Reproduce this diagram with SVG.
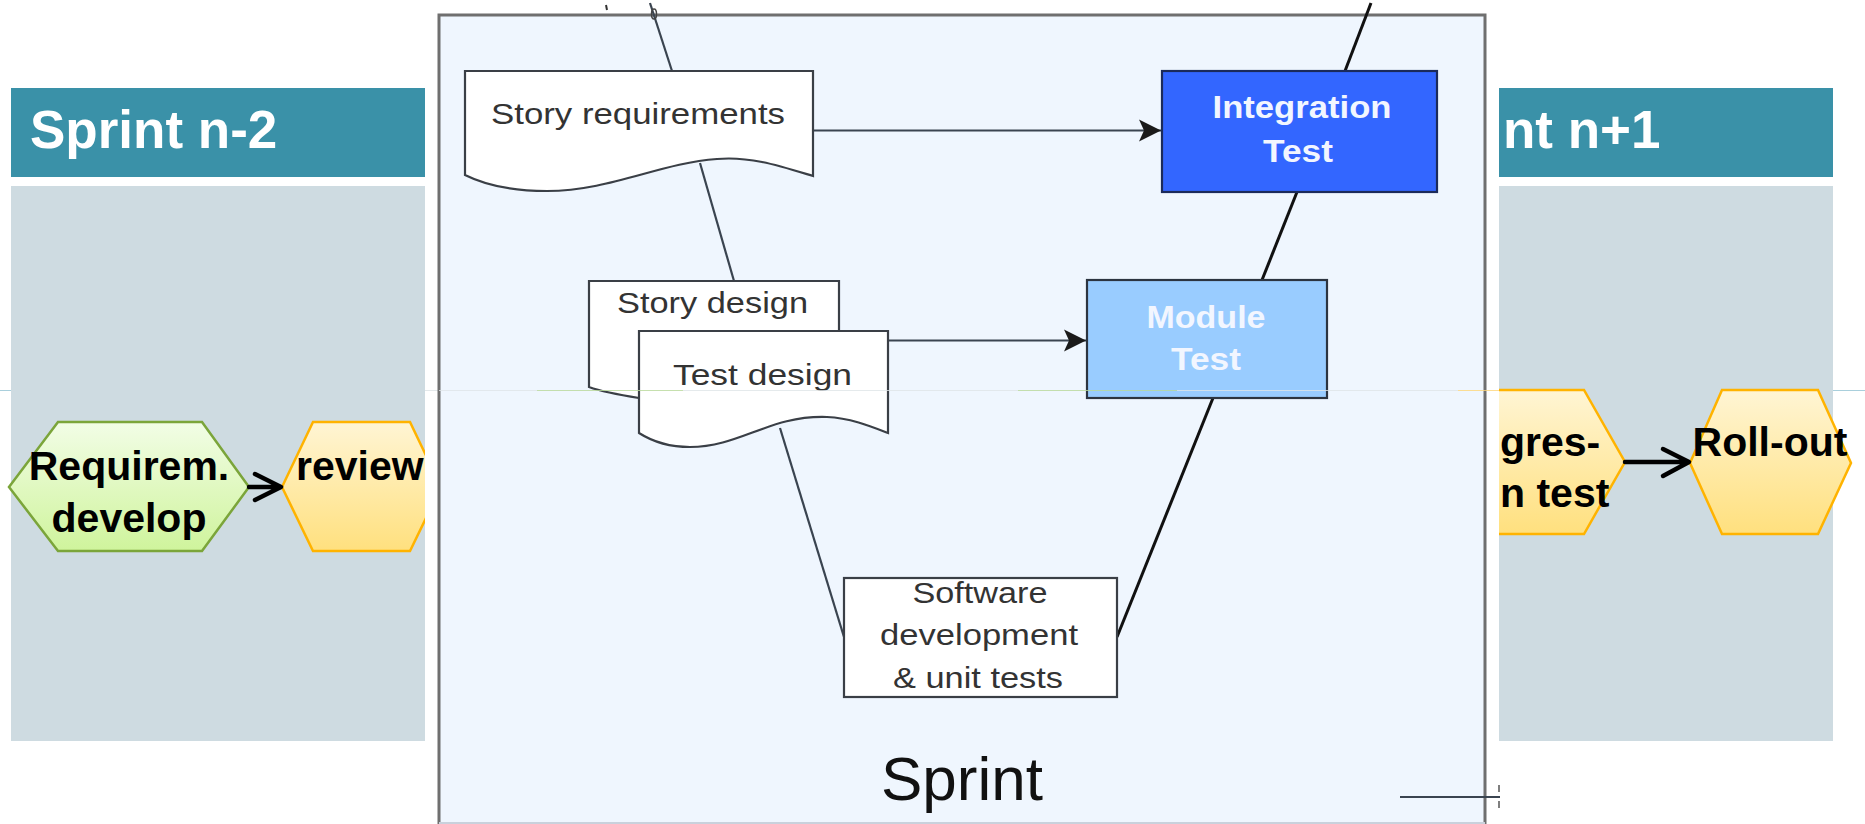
<svg xmlns="http://www.w3.org/2000/svg" width="1865" height="824" viewBox="0 0 1865 824">
  <defs>
    <linearGradient id="gGreen" x1="0" y1="0" x2="0" y2="1">
      <stop offset="0" stop-color="#f2fde6"/>
      <stop offset="1" stop-color="#cff49c"/>
    </linearGradient>
    <linearGradient id="gYellow" x1="0" y1="0" x2="0" y2="1">
      <stop offset="0" stop-color="#fff5d4"/>
      <stop offset="1" stop-color="#ffe07e"/>
    </linearGradient>
    <clipPath id="clipLeft">
      <rect x="0" y="0" width="425" height="824"/>
    </clipPath>
    <clipPath id="clipRight">
      <rect x="1499" y="0" width="366" height="824"/>
    </clipPath>
    <marker id="arrowFill" viewBox="0 0 24 24" markerWidth="24" markerHeight="24" refX="22" refY="12" orient="auto" markerUnits="userSpaceOnUse">
      <path d="M0,1 L22,12 L0,23 L5,12 Z" fill="#1a1a1a"/>
    </marker>
    <style>
      .hdr { fill: #3a91a8; }
      .panel { fill: #cedbe1; }
      .hdrText { font-family: "Liberation Sans", Arial, sans-serif; font-weight: bold; font-size: 53px; fill: #ffffff; }
      .hexText { font-family: "Liberation Sans", Arial, sans-serif; font-weight: bold; font-size: 41px; fill: #000000; }
      .hexGreen { fill: url(#gGreen); stroke: #7ba53a; stroke-width: 2.5; }
      .hexYellow { fill: url(#gYellow); stroke: #ffb300; stroke-width: 2.5; }
      .flow { fill: none; stroke: #000000; stroke-width: 4.5; stroke-linecap: round; stroke-linejoin: round; }
      .doc { fill: #ffffff; stroke: #3a3f46; stroke-width: 2.2; }
      .docText { font-family: "Liberation Sans", Arial, sans-serif; font-size: 30px; fill: #333333; }
      .testText { font-family: "Liberation Sans", Arial, sans-serif; font-weight: bold; font-size: 31px; fill: #f2f6ff; text-anchor: middle; }
      .link { fill: none; stroke: #3a4450; stroke-width: 2.2; }
      .linkDark { fill: none; stroke: #111111; stroke-width: 3; }
    </style>
  </defs>

  <rect width="1865" height="824" fill="#ffffff"/>

  <!-- left sprint column -->
  <g id="sprint-n-2">
    <rect class="hdr" x="11" y="88" width="414" height="89"/>
    <text class="hdrText" x="30" y="148">Sprint n-2</text>
    <rect class="panel" x="11" y="186" width="414" height="555"/>
  </g>
  <g clip-path="url(#clipLeft)">
    <g id="req-develop">
      <polygon class="hexGreen" points="9,487 58,422 202,422 249,487 202,551 58,551"/>
      <text class="hexText" x="129" y="480" text-anchor="middle">Requirem.</text>
      <text class="hexText" x="129" y="532" text-anchor="middle">develop</text>
    </g>
    <g id="review">
      <polygon class="hexYellow" points="282,487 313,422 410,422 441,487 410,551 313,551"/>
      <text class="hexText" x="296" y="480">review</text>
    </g>
    <g class="flow-arrows">
      <path class="flow" d="M249,487 L279,487 M255,474 L281,487 L255,500"/>
    </g>
  </g>

  <!-- right sprint column -->
  <g id="sprint-n+1">
    <rect class="hdr" x="1499" y="88" width="334" height="89"/>
    <text class="hdrText" x="1503" y="148">nt n+1</text>
    <rect class="panel" x="1499" y="186" width="334" height="555"/>
  </g>
  <g clip-path="url(#clipRight)">
    <g id="regression-test">
      <polygon class="hexYellow" points="1464,462 1488,390 1584,390 1625,462 1584,534 1488,534"/>
      <text class="hexText" x="1500" y="456">gres-</text>
      <text class="hexText" x="1500" y="507">n test</text>
    </g>
    <g id="roll-out">
      <polygon class="hexYellow" points="1690,463 1722,390 1818,390 1851,463 1818,534 1722,534"/>
      <text class="hexText" x="1770" y="456" text-anchor="middle">Roll-out</text>
    </g>
    <g class="flow-arrows">
      <path class="flow" d="M1625,462 L1687,462 M1663,449 L1689,462 L1663,476"/>
    </g>
  </g>

  <!-- faint guide line behind the side columns -->
  <g id="guide-line" stroke-width="1" fill="none">
    <line x1="0" y1="390.5" x2="11" y2="390.5" stroke="#a9cfdc"/>
    <line x1="1833" y1="390.5" x2="1865" y2="390.5" stroke="#a9cfdc"/>
    <line x1="425" y1="390.5" x2="439" y2="390.5" stroke="#e3e8ea"/>
  </g>

  <!-- sprint frame -->
  <g id="sprint">
    <rect x="439" y="15" width="1046" height="815" fill="#eff6fe" stroke="#6f6f6f" stroke-width="3"/>
    <line x1="439" y1="823" x2="1485" y2="823" stroke="#c9d1dc" stroke-width="2"/>
    <text x="962" y="800" text-anchor="middle" font-family="'Liberation Sans', Arial, sans-serif" font-size="62" fill="#111111">Sprint</text>
  </g>

  <!-- connectors of the V model -->
  <g id="connectors">
    <line class="link" x1="650" y1="3" x2="672" y2="71"/>
    <line class="link" x1="700" y1="163" x2="734" y2="281"/>
    <line class="link" x1="780" y1="428" x2="844" y2="637"/>
    <line class="linkDark" x1="1117" y1="637" x2="1213" y2="398"/>
    <line class="linkDark" x1="1262" y1="280" x2="1297" y2="192"/>
    <line class="linkDark" x1="1345" y1="71" x2="1371" y2="3"/>
    <line class="link" x1="813" y1="130.5" x2="1161" y2="130.5" marker-end="url(#arrowFill)"/>
    <line class="link" x1="888" y1="340.5" x2="1086" y2="340.5" marker-end="url(#arrowFill)"/>
    <line class="link" x1="1400" y1="797" x2="1500" y2="797"/>
    <!-- small marks at the frame edges -->
    <line x1="606" y1="5" x2="607" y2="10" stroke="#333333" stroke-width="2"/>
    <ellipse cx="654" cy="14" rx="2.5" ry="5" fill="none" stroke="#444444" stroke-width="1.5"/>
    <line x1="1499" y1="785" x2="1499" y2="792" stroke="#555555" stroke-width="1.5"/>
    <line x1="1499" y1="801" x2="1499" y2="808" stroke="#555555" stroke-width="1.5"/>
  </g>

  <g id="story-requirements">
    <path class="doc" d="M465,71 L813,71 L813,176 C780,166 750,156 717,159 C660,163 610,191 547,191 C510,191 485,185 465,175 Z"/>
    <text class="docText" x="491" y="124" textLength="294" lengthAdjust="spacingAndGlyphs">Story requirements</text>
  </g>

  <g id="story-design">
    <path class="doc" d="M589,281 L839,281 L839,400 L639,398 C620,395 603,392 589,387 Z"/>
    <text class="docText" x="617" y="313" textLength="191" lengthAdjust="spacingAndGlyphs">Story design</text>
  </g>

  <g id="test-design">
    <path class="doc" d="M639,331 L888,331 L888,433 C870,426 850,418 827,417 C770,415 740,447 690,447 C665,447 650,440 639,433 Z"/>
    <text class="docText" x="673" y="385" font-size="32" textLength="179" lengthAdjust="spacingAndGlyphs">Test design</text>
  </g>

  <g id="integration-test">
    <rect x="1162" y="71" width="275" height="121" fill="#3366ff" stroke="#1b2a5a" stroke-width="2.2"/>
    <text class="testText" x="1302" y="118" textLength="179" lengthAdjust="spacingAndGlyphs">Integration</text>
    <text class="testText" x="1298" y="162" textLength="70" lengthAdjust="spacingAndGlyphs">Test</text>
  </g>

  <g id="module-test">
    <rect x="1087" y="280" width="240" height="118" fill="#99ccff" stroke="#2c3440" stroke-width="2.2"/>
    <text class="testText" x="1206" y="328" textLength="119" lengthAdjust="spacingAndGlyphs">Module</text>
    <text class="testText" x="1206" y="370" textLength="70" lengthAdjust="spacingAndGlyphs">Test</text>
  </g>

  <g id="software-development">
    <rect x="844" y="578" width="273" height="119" fill="#ffffff" stroke="#3a3f46" stroke-width="2.2"/>
    <text class="docText" x="980" y="603" font-size="27" text-anchor="middle" textLength="135" lengthAdjust="spacingAndGlyphs">Software</text>
    <text class="docText" x="979" y="645" font-size="27" text-anchor="middle" textLength="198" lengthAdjust="spacingAndGlyphs">development</text>
    <text class="docText" x="978" y="688" font-size="27" text-anchor="middle" textLength="170" lengthAdjust="spacingAndGlyphs">&amp; unit tests</text>
  </g>

  <!-- faint guide line crossing the sprint frame -->
  <g id="guide-line-front" stroke-width="1" fill="none" opacity="0.8">
    <line x1="439" y1="390.5" x2="1485" y2="390.5" stroke="#dfe5e8"/>
    <line x1="537" y1="390.5" x2="683" y2="390.5" stroke="#b9d99a"/>
    <line x1="1018" y1="390.5" x2="1177" y2="390.5" stroke="#b9d99a"/>
    <line x1="1458" y1="390.5" x2="1499" y2="390.5" stroke="#ffd77a"/>
  </g>
</svg>
